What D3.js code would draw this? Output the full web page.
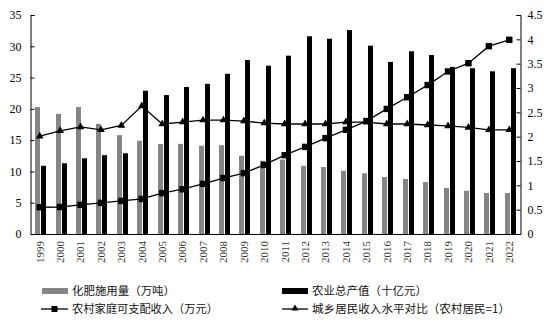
<!DOCTYPE html>
<html><head><meta charset="utf-8">
<script src="https://cdn.jsdelivr.net/npm/d3@7"></script>
<style>body{margin:0;background:#fff}svg{display:block}</style>
</head><body>
<svg id="c" width="554" height="328"></svg>
<script>
const years = ["1999","2000","2001","2002","2003","2004","2005","2006","2007","2008","2009","2010","2011","2012","2013","2014","2015","2016","2017","2018","2019","2020","2021","2022"];
const fertilizer = [20.3,19.2,20.3,17.6,15.8,14.9,14.4,14.4,14.1,14.2,12.5,11.7,11.9,10.9,10.7,10.1,9.7,9.1,8.8,8.3,7.35,6.9,6.55,6.55];
const agriOutput = [10.9,11.3,12.1,12.6,12.9,22.9,22.2,23.5,24.0,25.6,27.8,26.9,28.5,31.6,31.2,32.6,30.1,27.5,29.2,28.6,26.7,26.5,26.0,26.5];
const ruralIncome = [0.55,0.555,0.60,0.64,0.68,0.72,0.84,0.92,1.03,1.15,1.25,1.42,1.62,1.79,1.97,2.14,2.32,2.57,2.81,3.06,3.34,3.51,3.86,3.99];
const incomeRatio = [2.01,2.12,2.20,2.14,2.23,2.63,2.26,2.30,2.34,2.34,2.32,2.28,2.26,2.26,2.26,2.30,2.30,2.26,2.26,2.24,2.22,2.19,2.14,2.14];
const leftTicks = [0,5,10,15,20,25,30,35];
const rightTicks = [0,0.5,1,1.5,2,2.5,3,3.5,4,4.5];
const legendLabels = ["化肥施用量（万吨）","农业总产值（十亿元）","农村家庭可支配收入（万元）","城乡居民收入水平对比（农村居民=1）"];

const svg = d3.select("#c");
const L = 30.5, R = 520.5, T = 15, B = 234;
const x = d3.scaleBand().domain(years).range([L, R]);
const yL = d3.scaleLinear().domain([0,35]).range([B, T]);
const yR = d3.scaleLinear().domain([0,4.5]).range([B, T]);
const cx = d => x(d) + x.bandwidth()/2;
const serif = "'Liberation Serif','Times New Roman',serif";
const cjk = "'Noto Sans CJK SC','Noto Sans',sans-serif";

// bars
svg.append("g").selectAll("rect").data(years).join("rect")
  .attr("x", (d)=>Math.round(cx(d)-5.5)).attr("width",5)
  .attr("y", (d,i)=>yL(fertilizer[i])).attr("height",(d,i)=>B-yL(fertilizer[i]))
  .attr("fill","#858585");
svg.append("g").selectAll("rect").data(years).join("rect")
  .attr("x", (d)=>Math.round(cx(d)+0.5)).attr("width",5)
  .attr("y", (d,i)=>yL(agriOutput[i])).attr("height",(d,i)=>B-yL(agriOutput[i]))
  .attr("fill","#000");

// lines
const line = d3.line();
const incPts = years.map((d,i)=>[cx(d)-1, yR(ruralIncome[i])]);
const ratPts = years.map((d,i)=>[cx(d)-1, yR(incomeRatio[i])]);
svg.append("path").attr("d", line(ratPts)).attr("fill","none").attr("stroke","#000").attr("stroke-width",1.3);
svg.append("path").attr("d", line(incPts)).attr("fill","none").attr("stroke","#000").attr("stroke-width",1.3);
svg.append("g").selectAll("path").data(ratPts).join("path")
  .attr("transform", p=>`translate(${p[0]},${p[1]})`)
  .attr("d", d3.symbol(d3.symbolTriangle, 26)).attr("fill","#000");
svg.append("g").selectAll("rect").data(incPts).join("rect")
  .attr("x", p=>p[0]-3.2).attr("y", p=>p[1]-3.2).attr("width",6.4).attr("height",6.4).attr("fill","#000");

// axes
const gL = svg.append("g").attr("transform",`translate(${L},0)`)
  .call(d3.axisLeft(yL).tickValues(leftTicks).tickSize(-4).tickPadding(9).tickFormat(d3.format("d")));
const gR = svg.append("g").attr("transform",`translate(${R},0)`)
  .call(d3.axisRight(yR).tickValues(rightTicks).tickSize(-4).tickPadding(7).tickFormat(d=>String(d)));
const gB = svg.append("g").attr("transform",`translate(0,${B})`)
  .call(d3.axisBottom(x).tickSize(0).tickPadding(0));
[gL,gR,gB].forEach(g=>{
  g.select(".domain").attr("stroke","#000").attr("stroke-width",1);
  g.selectAll(".tick line").attr("stroke","#000");
  g.selectAll("text").attr("font-family",serif).attr("font-size",12).attr("fill","#000");
});
gB.selectAll(".tick text")
  .attr("font-size",11).attr("fill","#333")
  .attr("text-anchor","end").attr("dy","0.35em")
  .attr("transform","translate(-1,7) rotate(-90)").attr("x",0).attr("y",0);

// legend
const lg = svg.append("g").attr("font-family",cjk).attr("font-size",11.3).attr("fill","#111");
const rows = [[42,291],[282,291],[41,309],[282,309]];
lg.append("rect").attr("x",42).attr("y",288).attr("width",26).attr("height",6).attr("fill","#858585");
lg.append("rect").attr("x",282).attr("y",288).attr("width",26).attr("height",6).attr("fill","#000");
lg.append("line").attr("x1",41).attr("x2",68).attr("y1",309).attr("y2",309).attr("stroke","#000").attr("stroke-width",1.3);
lg.append("rect").attr("x",51.5).attr("y",306).attr("width",6).attr("height",6).attr("fill","#000");
lg.append("line").attr("x1",282).attr("x2",308).attr("y1",309).attr("y2",309).attr("stroke","#000").attr("stroke-width",1.3);
lg.append("path").attr("transform","translate(295,308.5)").attr("d",d3.symbol(d3.symbolTriangle,22)).attr("fill","#000");
const tx = [72,312,72,312];
const tw = [103,115,146,198];
lg.selectAll("text").data(legendLabels).join("text")
  .attr("x",(d,i)=>tx[i]).attr("y",(d,i)=>rows[i][1]).attr("dy","0.36em")
  .attr("textLength",(d,i)=>tw[i]).attr("lengthAdjust","spacingAndGlyphs").text(d=>d);
</script>
</body></html>
